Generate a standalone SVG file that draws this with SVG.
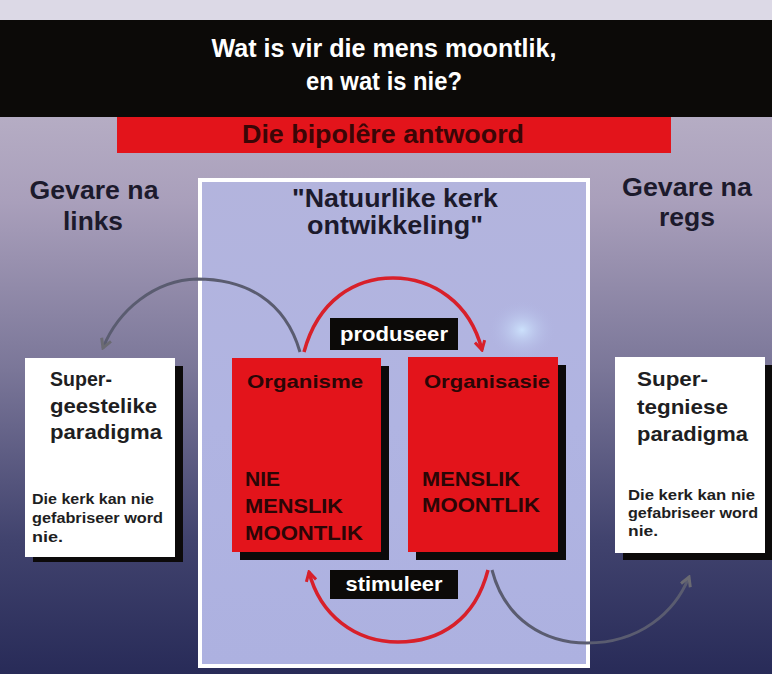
<svg xmlns="http://www.w3.org/2000/svg" width="772" height="674" viewBox="0 0 772 674">
<defs>
<linearGradient id="bg" x1="0" y1="0" x2="0" y2="1">
<stop offset="0" stop-color="#c6bfd0"/>
<stop offset="0.3" stop-color="#a99fbb"/>
<stop offset="0.55" stop-color="#7a7698"/>
<stop offset="0.8" stop-color="#41436e"/>
<stop offset="1" stop-color="#282b58"/>
</linearGradient>
<linearGradient id="panel" x1="0" y1="0" x2="0" y2="1">
<stop offset="0" stop-color="#b3b4dd"/>
<stop offset="0.5" stop-color="#b0b4e2"/>
<stop offset="1" stop-color="#adb1e0"/>
</linearGradient>
<radialGradient id="glow" cx="0.5" cy="0.5" r="0.5">
<stop offset="0" stop-color="#cfe6ff" stop-opacity="0.9"/>
<stop offset="1" stop-color="#b0b4e2" stop-opacity="0"/>
</radialGradient>
<marker id="ahRed" viewBox="0 0 12 12" refX="10" refY="6" markerWidth="12" markerHeight="12" markerUnits="userSpaceOnUse" orient="auto">
<path d="M1,1 L10,6 L1,11" fill="none" stroke="#d8202a" stroke-width="3" stroke-linejoin="miter"/>
</marker>
<marker id="ahGray" viewBox="0 0 12 12" refX="10" refY="6" markerWidth="12" markerHeight="12" markerUnits="userSpaceOnUse" orient="auto">
<path d="M1,1 L10,6 L1,11" fill="none" stroke="#6a6a72" stroke-width="3"/>
</marker>
<style>
text{font-family:"Liberation Sans",Arial,sans-serif;font-weight:bold}
.title{fill:#ffffff;font-size:25px}
.dark{fill:#1c1a2c;font-size:25px}
.redbox{fill:#e3141b}
.shadow{fill:#0c0a0a}
.white{fill:#ffffff}
.boxhead{fill:#2a0606;font-size:19px}
.boxbig{fill:#2a0606;font-size:20px}
.whead{fill:#1e1e22;font-size:21px}
.wsmall{fill:#1e1e22;font-size:14px}
.lbl{fill:#ffffff;font-size:21px}
.red{fill:none;stroke:#d8202a;stroke-width:3.5}
.gray{fill:none;stroke:#5a5c70;stroke-width:3}
</style>
</defs>
<rect x="0" y="0" width="772" height="674" fill="url(#bg)"/>
<rect x="0" y="0" width="772" height="21" fill="#dcd9e6"/>
<rect x="0" y="20" width="772" height="97" fill="#0c0a08"/>
<g id="title">
<text class="title" x="384" y="57" text-anchor="middle" textLength="345" lengthAdjust="spacingAndGlyphs">Wat is vir die mens moontlik,</text>
<text class="title" x="384" y="90" text-anchor="middle" textLength="156" lengthAdjust="spacingAndGlyphs">en wat is nie?</text>
</g>
<g id="subtitle">
<rect x="117" y="117" width="554" height="36" fill="#e3141b"/>
<text x="383" y="143" text-anchor="middle" style="font-size:25px;fill:#3a0606" textLength="282" lengthAdjust="spacingAndGlyphs">Die bipolêre antwoord</text>
</g>
<g id="gevare-links">
<text class="dark" x="94" y="199" text-anchor="middle" textLength="129" lengthAdjust="spacingAndGlyphs">Gevare na</text>
<text class="dark" x="93" y="230" text-anchor="middle" textLength="60" lengthAdjust="spacingAndGlyphs">links</text>
</g>
<g id="gevare-regs">
<text class="dark" x="687" y="196" text-anchor="middle" textLength="130" lengthAdjust="spacingAndGlyphs">Gevare na</text>
<text class="dark" x="687" y="226" text-anchor="middle" textLength="56" lengthAdjust="spacingAndGlyphs">regs</text>
</g>
<g id="panel">
<rect x="200" y="180" width="388" height="486" fill="url(#panel)" stroke="#ffffff" stroke-width="4"/>
<ellipse cx="522" cy="330" rx="34" ry="30" fill="url(#glow)"/>
<text class="dark" x="395" y="207" text-anchor="middle" textLength="206" lengthAdjust="spacingAndGlyphs">"Natuurlike kerk</text>
<text class="dark" x="395" y="234" text-anchor="middle" textLength="176" lengthAdjust="spacingAndGlyphs">ontwikkeling"</text>
</g>
<g id="links">
<path class="gray" d="M300,352 C285,300 245,279 197,279 C155,280 118,310 103,348" marker-end="url(#ahGray)"/>
<path class="gray" d="M492,570 C505,620 545,643 587,643 C640,643 675,612 689,577" marker-end="url(#ahGray)"/>
<path class="red" d="M304,352 C318,300 355,278 393,278 C432,278 470,302 482,350" marker-end="url(#ahRed)"/>
<path class="red" d="M488,570 C475,620 440,642 398,642 C355,642 320,615 309,572" marker-end="url(#ahRed)"/>
</g>
<g id="produseer">
<rect x="330" y="318" width="128" height="32" fill="#0c0a08"/>
<text class="lbl" x="394" y="341" text-anchor="middle" textLength="108" lengthAdjust="spacingAndGlyphs">produseer</text>
</g>
<g id="stimuleer">
<rect x="330" y="570" width="128" height="29" fill="#0c0a08"/>
<text class="lbl" x="394" y="591" text-anchor="middle" textLength="97" lengthAdjust="spacingAndGlyphs">stimuleer</text>
</g>
<g id="organisme">
<rect class="shadow" x="240" y="366" width="149" height="194"/>
<rect class="redbox" x="232" y="358" width="149" height="194"/>
<text class="boxhead" x="247" y="388" textLength="116" lengthAdjust="spacingAndGlyphs">Organisme</text>
<text class="boxbig" x="245" y="486" textLength="35" lengthAdjust="spacingAndGlyphs">NIE</text>
<text class="boxbig" x="245" y="513" textLength="98" lengthAdjust="spacingAndGlyphs">MENSLIK</text>
<text class="boxbig" x="245" y="540" textLength="118" lengthAdjust="spacingAndGlyphs">MOONTLIK</text>
</g>
<g id="organisasie">
<rect class="shadow" x="416" y="365" width="150" height="195"/>
<rect class="redbox" x="408" y="357" width="150" height="195"/>
<text class="boxhead" x="424" y="388" textLength="126" lengthAdjust="spacingAndGlyphs">Organisasie</text>
<text class="boxbig" x="422" y="486" textLength="98" lengthAdjust="spacingAndGlyphs">MENSLIK</text>
<text class="boxbig" x="422" y="512" textLength="118" lengthAdjust="spacingAndGlyphs">MOONTLIK</text>
</g>
<g id="supergeestelike">
<rect class="shadow" x="33" y="366" width="150" height="196"/>
<rect class="white" x="25" y="358" width="150" height="199"/>
<text class="whead" x="50" y="386" textLength="62" lengthAdjust="spacingAndGlyphs">Super-</text>
<text class="whead" x="50" y="413" textLength="107" lengthAdjust="spacingAndGlyphs">geestelike</text>
<text class="whead" x="50" y="439" textLength="112" lengthAdjust="spacingAndGlyphs">paradigma</text>
<text class="wsmall" x="32" y="504" textLength="122" lengthAdjust="spacingAndGlyphs">Die kerk kan nie</text>
<text class="wsmall" x="32" y="523" textLength="131" lengthAdjust="spacingAndGlyphs">gefabriseer word</text>
<text class="wsmall" x="32" y="542" textLength="31" lengthAdjust="spacingAndGlyphs">nie.</text>
</g>
<g id="supertegniese">
<rect class="shadow" x="623" y="365" width="149" height="195"/>
<rect class="white" x="615" y="357" width="150" height="196"/>
<text class="whead" x="637" y="386" textLength="71" lengthAdjust="spacingAndGlyphs">Super-</text>
<text class="whead" x="637" y="414" textLength="91" lengthAdjust="spacingAndGlyphs">tegniese</text>
<text class="whead" x="637" y="441" textLength="111" lengthAdjust="spacingAndGlyphs">paradigma</text>
<text class="wsmall" x="628" y="500" textLength="127" lengthAdjust="spacingAndGlyphs">Die kerk kan nie</text>
<text class="wsmall" x="628" y="518" textLength="130" lengthAdjust="spacingAndGlyphs">gefabriseer word</text>
<text class="wsmall" x="628" y="536" textLength="30" lengthAdjust="spacingAndGlyphs">nie.</text>
</g>
</svg>
